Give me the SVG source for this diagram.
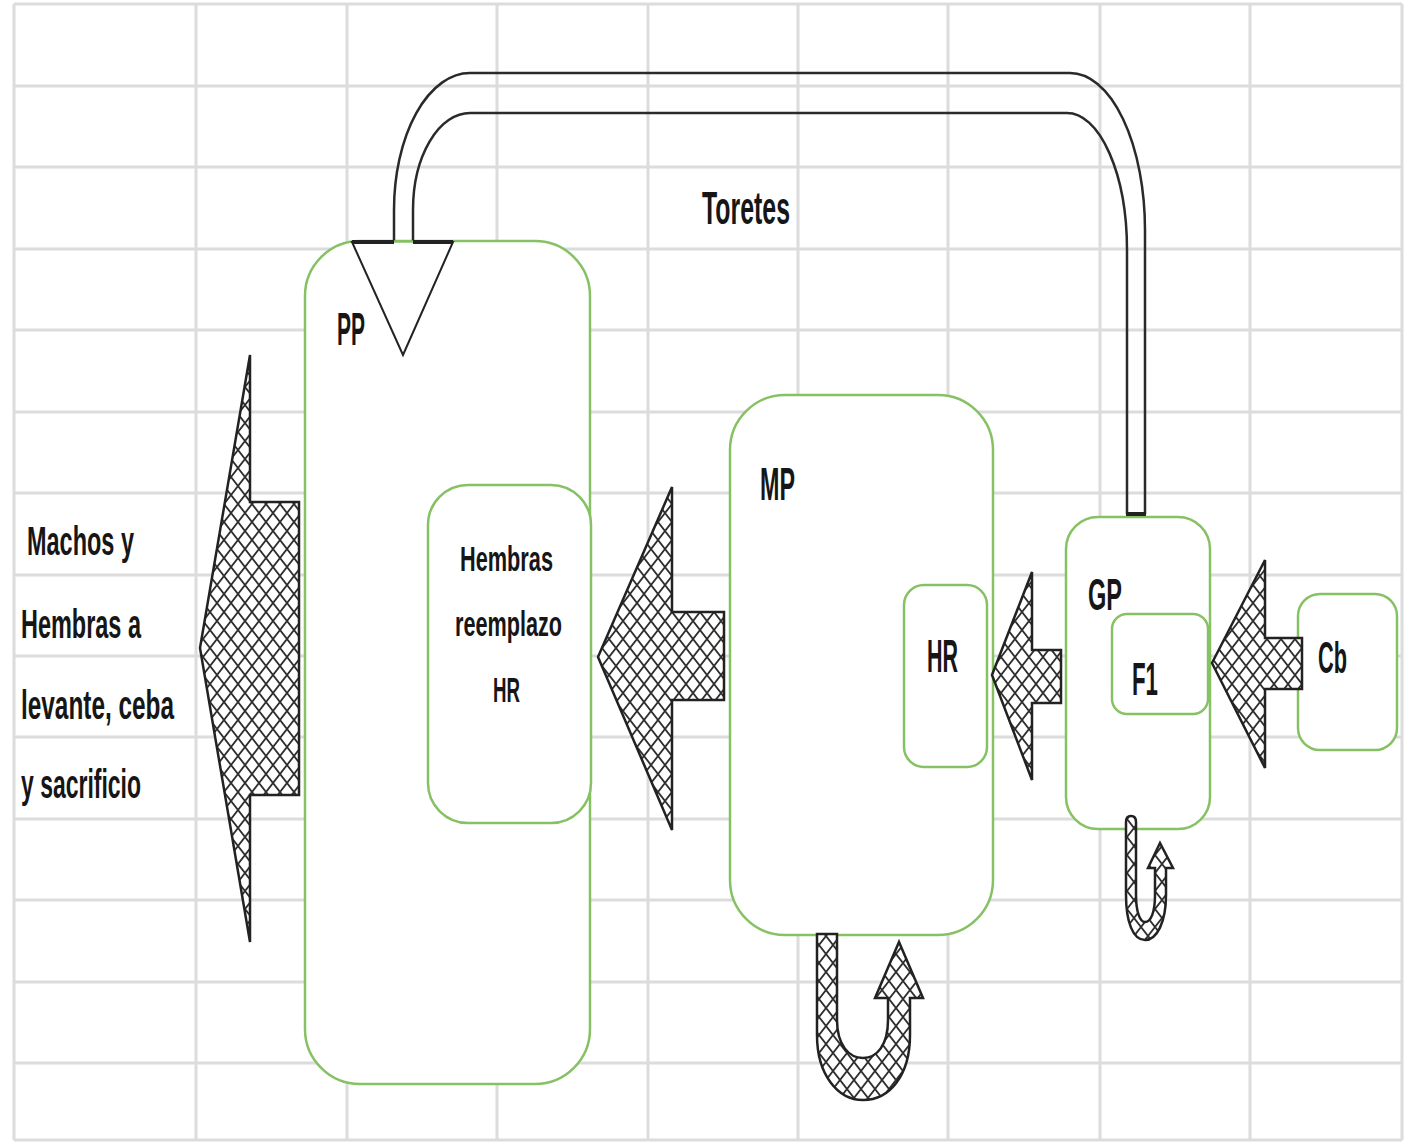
<svg xmlns="http://www.w3.org/2000/svg" width="1406" height="1143" viewBox="0 0 1406 1143">
<style>
.grid{stroke:#dcdcdc;stroke-width:3;fill:none}
.box{fill:#fff;stroke:#86c163;stroke-width:2.5}
.arrow{fill:url(#hatch);stroke:#222;stroke-width:2.5;stroke-linejoin:miter}
.pipe{fill:none;stroke:#2a2a2a;stroke-width:2.5}
.t{font-family:"Liberation Sans",Arial,sans-serif;fill:#161616;font-weight:bold}
</style>
<defs>
<pattern id="hatch" patternUnits="userSpaceOnUse" width="14" height="18">
<rect width="14" height="18" fill="#fff"/>
<path d="M-1 -1.29 L15 19.29 M15 -1.29 L-1 19.29" stroke="#2e2e2e" stroke-width="1.8"/>
</pattern>
</defs>
<rect width="1406" height="1143" fill="#fff"/>
<g id="grid" class="grid">
<path d="M14 4 V1140 M196 4 V1140 M347 4 V1140 M497 4 V1140 M648 4 V1140 M798 4 V1140 M948 4 V1140 M1100 4 V1140 M1250 4 V1140 M1402 4 V1140"/>
<path d="M14 4 H1402 M14 86 H1402 M14 167 H1402 M14 249 H1402 M14 330 H1402 M14 412 H1402 M14 493 H1402 M14 575 H1402 M14 656 H1402 M14 737 H1402 M14 819 H1402 M14 900 H1402 M14 982 H1402 M14 1063 H1402 M14 1140 H1402"/>
</g>
<g id="node-PP"><rect class="box" x="305" y="241" width="285" height="843" rx="55"/></g>
<g id="node-HembrasHR"><rect class="box" x="428" y="485" width="163" height="338" rx="40"/></g>
<g id="node-MP"><rect class="box" x="730" y="395" width="263" height="540" rx="55"/></g>
<g id="node-HR"><rect class="box" x="904" y="585" width="83" height="182" rx="20"/></g>
<g id="node-GP"><rect class="box" x="1066" y="517" width="144" height="312" rx="32"/></g>
<g id="node-F1"><rect class="box" x="1112" y="614" width="96" height="100" rx="15"/></g>
<g id="node-Cb"><rect class="box" x="1298" y="594" width="99" height="156" rx="22"/></g>
<g id="connectors">
<path class="arrow" d="M200 648 L250 355 L250 502 L299 502 L299 795 L250 795 L250 942 Z"/>
<path class="arrow" d="M598 657 L672 487 L672 612 L724 612 L724 700 L672 700 L672 830 Z"/>
<path class="arrow" d="M992 675 L1032 572 L1032 650 L1061 650 L1061 703 L1032 703 L1032 780 Z"/>
<path class="arrow" d="M1212 663 L1265 560 L1265 638 L1302 638 L1302 689 L1265 689 L1265 768 Z"/>
<path class="arrow" d="M817 934 L817 1035 C817 1075 838 1100 863 1100 C890 1100 910 1075 910 1035 L910 998 L923 998 L899 942 L875 998 L888 998 L888 1020 C888 1045 877 1058 863 1058 C849 1058 837 1045 837 1020 L837 934 Z"/>
<path class="arrow" d="M1126 822 Q1126 816 1131 816 Q1136 816 1136 822 L1136 895 C1136 912 1140 922 1145 922 C1151 922 1155 912 1155 895 L1155 868 L1148 868 L1160 843 L1173 868 L1166 868 L1166 895 C1166 922 1157 940 1145 940 C1133 940 1126 922 1126 895 Z"/>
<path class="pipe" d="M394 242 L394 210 A76 137 0 0 1 470 73 L1070 73 A75 157 0 0 1 1145 230 L1145 514"/>
<path class="pipe" d="M413 242 L413 210 A57 97 0 0 1 470 113 L1067 113 A60 137 0 0 1 1127 250 L1127 514"/>
<path d="M1126 514 L1146 514" stroke="#222" stroke-width="4"/>
<path d="M352 242 L403 355 L453 242 L352 242 Z" fill="#fff" stroke="none"/>
<path d="M394 242 L352 242 L403 355 L453 242 L413 242" fill="none" stroke="#222" stroke-width="2"/>
<path d="M352 242 L394 242 M413 242 L453 242" stroke="#222" stroke-width="4"/>
<path d="M394 241.5 L413 241.5" stroke="#86c163" stroke-width="2.5"/>
</g>
<g id="labels">
<text class="t" x="702" y="224" font-size="46" textLength="88" lengthAdjust="spacingAndGlyphs">Toretes</text>
<text class="t" x="337" y="345" font-size="46" textLength="28" lengthAdjust="spacingAndGlyphs">PP</text>
<text class="t" x="27" y="555" font-size="40" textLength="107" lengthAdjust="spacingAndGlyphs">Machos y</text>
<text class="t" x="21" y="638" font-size="40" textLength="120" lengthAdjust="spacingAndGlyphs">Hembras a</text>
<text class="t" x="21" y="719" font-size="40" textLength="153" lengthAdjust="spacingAndGlyphs">levante, ceba</text>
<text class="t" x="21" y="798" font-size="40" textLength="120" lengthAdjust="spacingAndGlyphs">y sacrificio</text>
<text class="t" x="460" y="571" font-size="35" textLength="93" lengthAdjust="spacingAndGlyphs">Hembras</text>
<text class="t" x="455" y="636" font-size="35" textLength="107" lengthAdjust="spacingAndGlyphs">reemplazo</text>
<text class="t" x="493" y="702" font-size="35" textLength="27" lengthAdjust="spacingAndGlyphs">HR</text>
<text class="t" x="760" y="500" font-size="46" textLength="35" lengthAdjust="spacingAndGlyphs">MP</text>
<text class="t" x="927" y="672" font-size="46" textLength="31" lengthAdjust="spacingAndGlyphs">HR</text>
<text class="t" x="1088" y="610" font-size="44" textLength="34" lengthAdjust="spacingAndGlyphs">GP</text>
<text class="t" x="1132" y="695" font-size="46" textLength="26" lengthAdjust="spacingAndGlyphs">F1</text>
<text class="t" x="1318" y="673" font-size="44" textLength="29" lengthAdjust="spacingAndGlyphs">Cb</text>
</g>
</svg>
